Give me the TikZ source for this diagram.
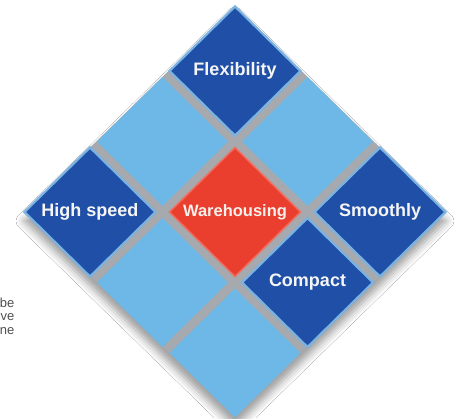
\documentclass[tikz,border=0pt]{standalone}
\usepackage{fontspec}
\setmainfont{Liberation Sans}
\usetikzlibrary{shapes.geometric,shadows.blur}
\definecolor{darkblue}{RGB}{31,79,166}
\definecolor{rimblue}{RGB}{122,178,226}
\definecolor{lightblue}{RGB}{110,184,232}
\definecolor{warered}{RGB}{234,62,46}
\definecolor{redrim}{RGB}{240,110,95}
\definecolor{gapgray}{RGB}{166,169,173}
\definecolor{txtgray}{RGB}{80,80,80}
\tikzset{
  sq/.style={diamond, minimum width=131pt, minimum height=129pt, inner sep=0pt, outer sep=0pt},
  darksq/.style={sq, fill=darkblue, draw=rimblue, line width=2.2pt, text={rgb,255:red,245;green,245;blue,245},
    font=\bfseries\fontsize{18}{18}\selectfont},
  lightsq/.style={sq, fill=lightblue},
  redsq/.style={sq, fill=warered, draw=redrim, line width=1.5pt, text={rgb,255:red,245;green,240;blue,235},
    font=\bfseries\fontsize{16.5}{16.5}\selectfont},
  basesq/.style={diamond, minimum width=422pt, minimum height=412pt, inner sep=0pt, fill=gapgray,
    blur shadow={shadow xshift=0pt, shadow yshift=-9pt, shadow blur radius=8pt, shadow opacity=40}},
  sidetext/.style={anchor=east, text=txtgray, font=\fontsize{13}{13}\selectfont, inner sep=0pt}
}
\begin{document}
\begin{tikzpicture}[x=1pt,y=-1pt]
\useasboundingbox (0,0) rectangle (454,418);
\fill[white] (0,0) rectangle (454,418);
\node[basesq] (base) at (235,212) {};
% light squares
\node[lightsq] (ul) at (162.5,141.5) {};
\node[lightsq] (ur) at (307.5,141.5) {};
\node[lightsq] (ll) at (162.5,282.5) {};
\node[lightsq] (bot) at (235,353) {};
% centre
\node[redsq] (ware) at (235,212) {Warehousing};
% dark squares
\node[darksq] (flex) at (235,71) {Flexibility};
\node[darksq] (high) at (90,212) {High speed};
\node[darksq] (smooth) at (380,212) {Smoothly};
\node[darksq] (comp) at (307.5,282.5) {Compact};
% cropped side text
\node[sidetext] (t1) at (14.5,303) {be};
\node[sidetext] (t2) at (14.5,317) {ve};
\node[sidetext] (t3) at (14.5,331) {ne};
\end{tikzpicture}
\end{document}
